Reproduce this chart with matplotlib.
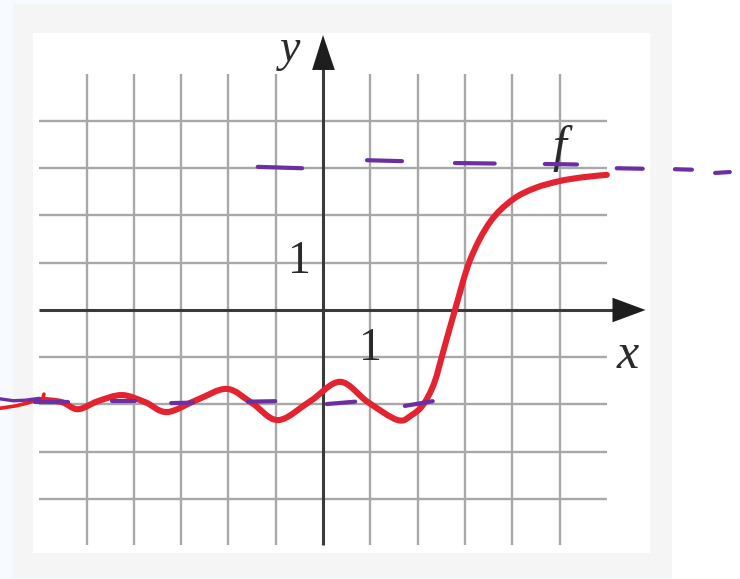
import matplotlib
matplotlib.use("Agg")
import matplotlib.pyplot as plt
from matplotlib.patches import Polygon, Rectangle, PathPatch
from matplotlib.path import Path

# ---- data (graph units) ----
grid_x = [-5, -4, -3, -2, -1, 1, 2, 3, 4, 5]
grid_y = [-4, -3, -2, -1, 1, 2, 3, 4]

curve_x = [-5.92, -5.52, -5.18, -4.76, -4.25, -3.76, -3.30, -2.66, -2.03, -1.5,
           -0.95, -0.27, 0.36, 0.95, 1.58, 1.88, 2.12, 2.35, 2.55, 2.79,
           3.11, 3.53, 4.00, 4.48, 5.01, 5.5, 6.0]
curve_y = [-1.90, -1.95, -2.10, -1.93, -1.80, -1.95, -2.16, -1.90, -1.67, -1.97,
           -2.33, -1.93, -1.52, -1.95, -2.33, -2.22, -2.00, -1.55, -0.85, 0.00,
           1.06, 1.86, 2.33, 2.58, 2.73, 2.81, 2.86]

# hand-drawn purple dashes: (x0, x1, y0, y1)
top_dash_x0 = [-1.38, 0.93, 2.79, 4.69, 6.21, 7.44, 8.29]
top_dash_x1 = [-0.44, 1.67, 3.63, 5.37, 6.76, 7.80, 8.60]
top_dash_y0 = [3.03, 3.17, 3.11, 3.09, 3.00, 2.98, 2.90]
top_dash_y1 = [3.00, 3.15, 3.10, 3.08, 2.99, 2.97, 2.92]

bot_dash_x0 = [-6.09, -4.46, -3.21, -1.59, 0.08, 1.73]
bot_dash_x1 = [-5.39, -3.97, -2.75, -1.01, 0.68, 2.32]
bot_dash_y0 = [-1.94, -1.92, -1.97, -1.94, -1.99, -2.03]
bot_dash_y1 = [-1.94, -1.92, -1.96, -1.93, -1.94, -1.93]

# hand-drawn strokes at the far left
red_stroke_x = [-6.83, -6.5, -6.25, -6.0, -5.92, -5.90]
red_stroke_y = [-2.08, -2.03, -1.97, -1.90, -1.86, -1.78]
pur_stroke_x = [-6.83, -6.55, -6.3, -6.0]
pur_stroke_y = [-1.88, -1.92, -1.91, -1.87]

PX = 47.3   # pixels per unit x
PY = 47.25  # pixels per unit y
W, H = 740, 579
X0, Y0 = 323, 310  # origin pixel


def smooth_path(xs, ys):
    """Catmull-Rom curve through the given points, as Bezier path."""
    pts = list(zip(xs, ys))
    n = len(pts)
    verts = [pts[0]]
    codes = [Path.MOVETO]
    for i in range(n - 1):
        p0 = pts[i - 1] if i > 0 else pts[i]
        p1 = pts[i]
        p2 = pts[i + 1]
        p3 = pts[i + 2] if i + 2 < n else pts[i + 1]
        c1 = (p1[0] + (p2[0] - p0[0]) / 6, p1[1] + (p2[1] - p0[1]) / 6)
        c2 = (p2[0] - (p3[0] - p1[0]) / 6, p2[1] - (p3[1] - p1[1]) / 6)
        verts += [c1, c2, p2]
        codes += [Path.CURVE4] * 3
    return Path(verts, codes)


fig = plt.figure(figsize=(W / 100, H / 100), dpi=100)
fig.patch.set_facecolor("#f7fbff")
for (l, t, r, b, c) in [(13, 4, 672, 578, "#f5f5f5"), (33, 33, 650, 553, "#ffffff"),
                        (672, 0, W, H, "#ffffff")]:
    fig.patches.append(Rectangle((l / W, 1 - b / H), (r - l) / W, (b - t) / H,
                                 transform=fig.transFigure, facecolor=c,
                                 edgecolor="none", zorder=-10))

ax = fig.add_axes([0, 0, 1, 1])
ax.set_zorder(5)
ax.set_facecolor("none")
ax.patch.set_alpha(0)
ax.set_xlim(-X0 / PX, (W - X0) / PX)
ax.set_ylim((Y0 - H) / PY, Y0 / PY)
ax.axis("off")

gcol = "#a8a8a8"
for gx in grid_x:
    ax.plot([gx, gx], [-4.97, 5.0], color=gcol, lw=1.7, zorder=1, solid_capstyle="butt")
for gy in grid_y:
    ax.plot([-6.0, 6.0], [gy, gy], color=gcol, lw=1.7, zorder=1, solid_capstyle="butt")

acol = "#3a3a3a"
ax.plot([-6.0, 6.15], [0, 0], color=acol, lw=2.2, zorder=2, solid_capstyle="butt")
ax.plot([0, 0], [-4.97, 5.1], color=acol, lw=2.2, zorder=2, solid_capstyle="butt")
ax.add_patch(Polygon([[6.82, 0], [6.12, 0.26], [6.12, -0.26]], closed=True,
                     facecolor="#1e1e1e", edgecolor="none", zorder=3))
ax.add_patch(Polygon([[0, 5.82], [-0.23, 5.08], [0.25, 5.08]], closed=True,
                     facecolor="#1e1e1e", edgecolor="none", zorder=3))

tfont = dict(family="Liberation Serif", color="#2a2a2a", zorder=4)
ax.text(-0.70, 5.5, "y", fontsize=33, style="italic", ha="center", va="center", **tfont)
ax.text(6.45, -0.97, "x", fontsize=36, style="italic", ha="center", va="center", **tfont)
ax.text(-0.49, 1.03, "1", fontsize=33, ha="center", va="center", **tfont)
ax.text(1.0, -0.81, "1", fontsize=33, ha="center", va="center", **tfont)
ax.text(5.0, 3.42, "f", fontsize=36, style="italic", ha="center", va="center", **tfont)

red = "#e3232f"
ax.add_patch(PathPatch(smooth_path(curve_x, curve_y), facecolor="none", edgecolor=red,
                       lw=4.4, zorder=5, capstyle="round", joinstyle="round"))
ax.plot(red_stroke_x, red_stroke_y, color="#ee1c1c", lw=2.6, zorder=6, solid_capstyle="round")

pur = "#6b2fa3"
for x0, x1, y0, y1 in zip(top_dash_x0, top_dash_x1, top_dash_y0, top_dash_y1):
    ax.plot([x0, x1], [y0, y1], color=pur, lw=3.0, zorder=7, solid_capstyle="round")
for x0, x1, y0, y1 in zip(bot_dash_x0, bot_dash_x1, bot_dash_y0, bot_dash_y1):
    ax.plot([x0, x1], [y0, y1], color=pur, lw=3.0, zorder=7, solid_capstyle="round")
ax.plot(pur_stroke_x, pur_stroke_y, color=pur, lw=2.4, zorder=7, solid_capstyle="round")

fig.savefig("out.png", dpi=100, facecolor=fig.get_facecolor())
